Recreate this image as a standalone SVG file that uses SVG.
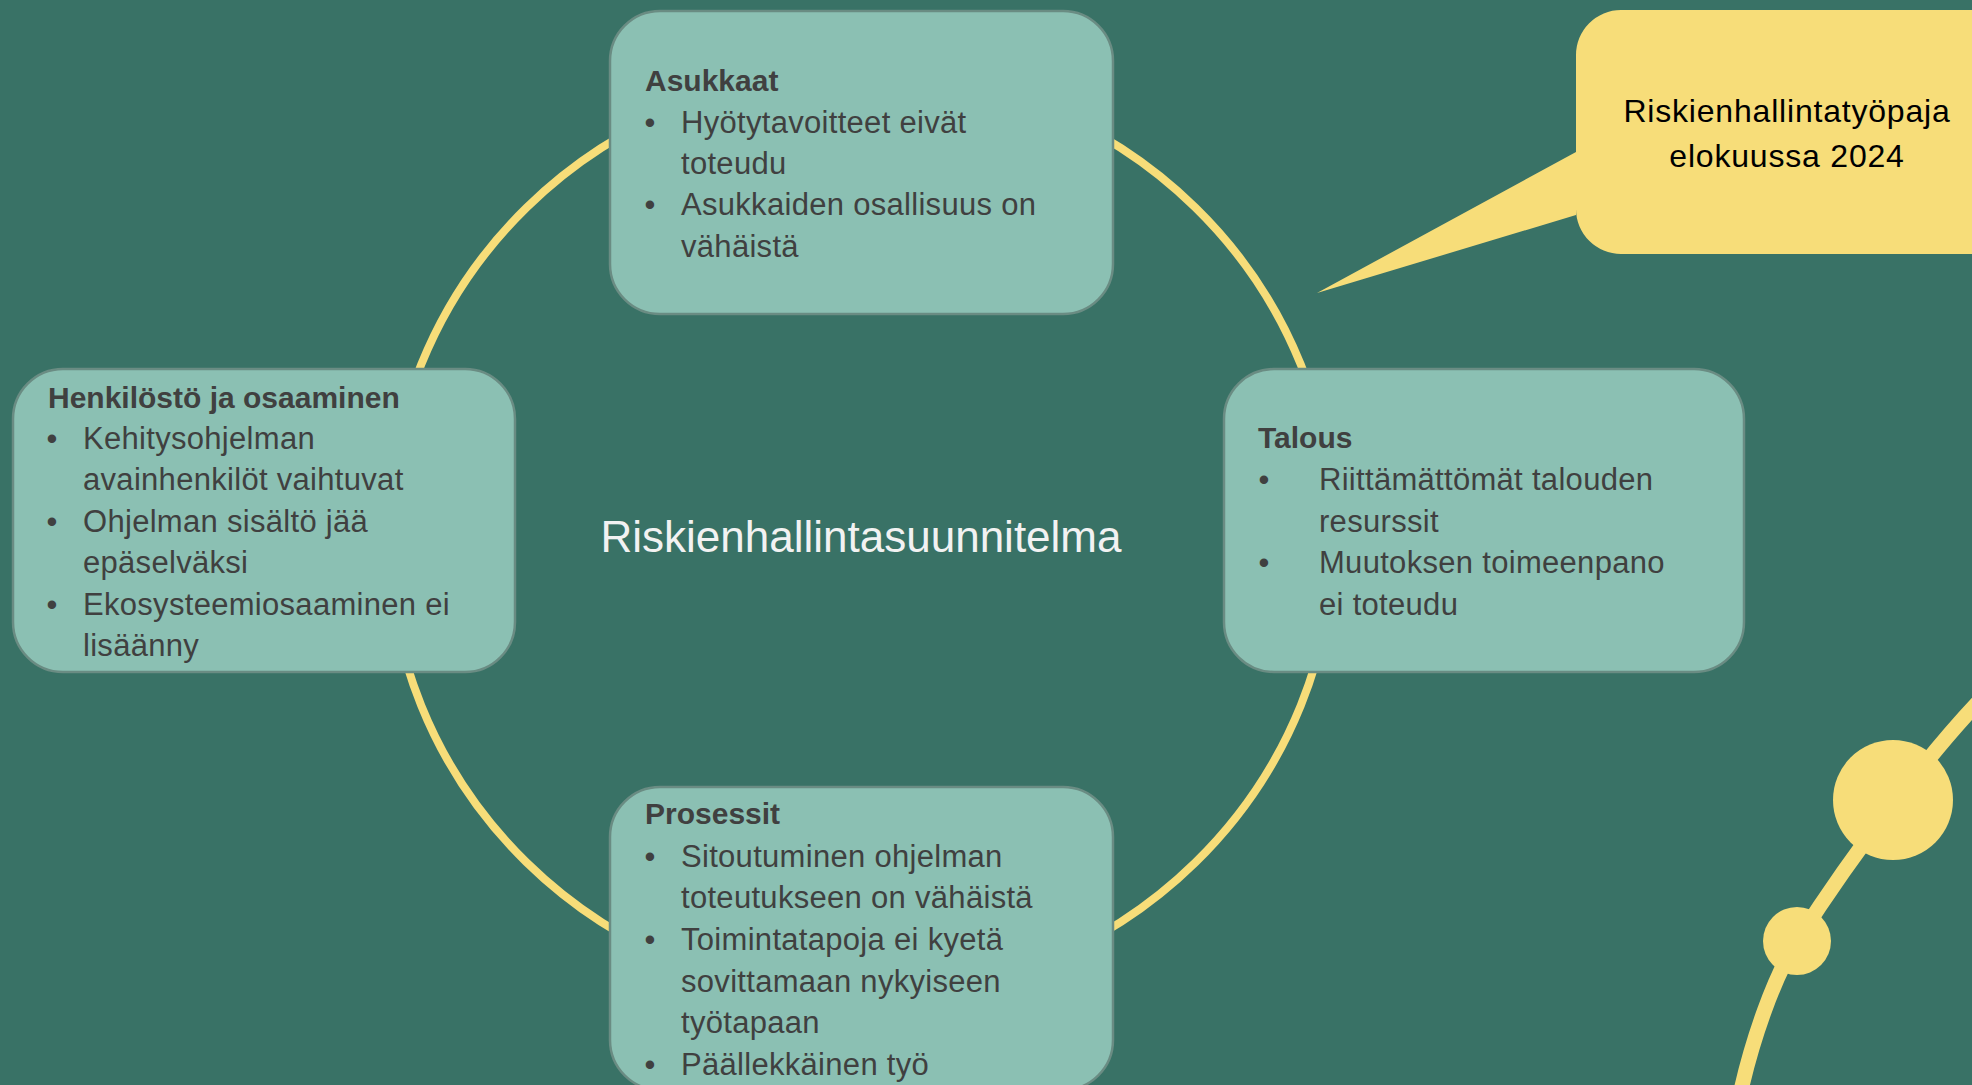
<svg xmlns="http://www.w3.org/2000/svg" width="1972" height="1085" viewBox="0 0 1972 1085">
<style>
.box{fill:#8bc0b3;stroke:#6a8c83;stroke-width:2.5}
.t{font-family:"Liberation Sans",Arial,sans-serif;fill:#404040}
.h{font-size:30px;font-weight:bold}
.b{font-size:31px;letter-spacing:0.3px}
.bul{font-size:31px;text-anchor:middle}
.ring{fill:none;stroke:#f7dd79;stroke-width:8}
.yel{fill:#f7dd79}
.co{font-family:"Liberation Sans",Arial,sans-serif;font-size:32px;letter-spacing:0.8px;fill:#000;text-anchor:middle}
</style>
<rect x="0" y="0" width="1972" height="1085" fill="#397266"/>
<g id="connectors">
<ellipse class="ring" cx="861" cy="535" rx="473" ry="463"/>
</g>
<g id="decor">
<path d="M1992,688 C1935,745 1855,850 1797,941 C1774,977 1752,1040 1740,1095" fill="none" stroke="#f7dd79" stroke-width="15"/>
<circle class="yel" cx="1893" cy="800" r="60"/>
<circle class="yel" cx="1797" cy="941" r="34"/>
</g>
<g id="center">
<text x="861" y="552" font-family="'Liberation Sans',Arial,sans-serif" font-size="44" fill="#f2f2f2" text-anchor="middle">Riskienhallintasuunnitelma</text>
</g>
<g id="asukkaat">
<rect class="box" x="610" y="11" width="503" height="303" rx="50"/>
<text class="t h" x="645" y="91">Asukkaat</text>
<text class="t bul" x="650" y="133">•</text>
<text class="t b" x="681" y="133">Hyötytavoitteet eivät</text>
<text class="t b" x="681" y="174">toteudu</text>
<text class="t bul" x="650" y="215">•</text>
<text class="t b" x="681" y="215">Asukkaiden osallisuus on</text>
<text class="t b" x="681" y="257">vähäistä</text>
</g>
<g id="henkilosto">
<rect class="box" x="13" y="369" width="502" height="303" rx="50"/>
<text class="t h" x="48" y="408">Henkilöstö ja osaaminen</text>
<text class="t bul" x="52" y="449">•</text>
<text class="t b" x="83" y="449">Kehitysohjelman</text>
<text class="t b" x="83" y="490">avainhenkilöt vaihtuvat</text>
<text class="t bul" x="52" y="532">•</text>
<text class="t b" x="83" y="532">Ohjelman sisältö jää</text>
<text class="t b" x="83" y="573">epäselväksi</text>
<text class="t bul" x="52" y="615">•</text>
<text class="t b" x="83" y="615">Ekosysteemiosaaminen ei</text>
<text class="t b" x="83" y="656">lisäänny</text>
</g>
<g id="talous">
<rect class="box" x="1224" y="369" width="520" height="303" rx="50"/>
<text class="t h" x="1258" y="448">Talous</text>
<text class="t bul" x="1264" y="490">•</text>
<text class="t b" x="1319" y="490">Riittämättömät talouden</text>
<text class="t b" x="1319" y="532">resurssit</text>
<text class="t bul" x="1264" y="573">•</text>
<text class="t b" x="1319" y="573">Muutoksen toimeenpano</text>
<text class="t b" x="1319" y="615">ei toteudu</text>
</g>
<g id="prosessit">
<rect class="box" x="610" y="787" width="503" height="303" rx="50"/>
<text class="t h" x="645" y="824">Prosessit</text>
<text class="t bul" x="650" y="867">•</text>
<text class="t b" x="681" y="867">Sitoutuminen ohjelman</text>
<text class="t b" x="681" y="908">toteutukseen on vähäistä</text>
<text class="t bul" x="650" y="950">•</text>
<text class="t b" x="681" y="950">Toimintatapoja ei kyetä</text>
<text class="t b" x="681" y="992">sovittamaan nykyiseen</text>
<text class="t b" x="681" y="1033">työtapaan</text>
<text class="t bul" x="650" y="1075">•</text>
<text class="t b" x="681" y="1075">Päällekkäinen työ</text>
</g>
<g id="callout">
<path class="yel" d="M1621,10 H2040 V254 H1621 A45,45 0 0 1 1576,209 V215 L1317,293 L1576,152 V55 A45,45 0 0 1 1621,10 Z"/>
<text class="co" x="1787" y="122">Riskienhallintatyöpaja</text>
<text class="co" x="1787" y="167">elokuussa 2024</text>
</g>
</svg>
